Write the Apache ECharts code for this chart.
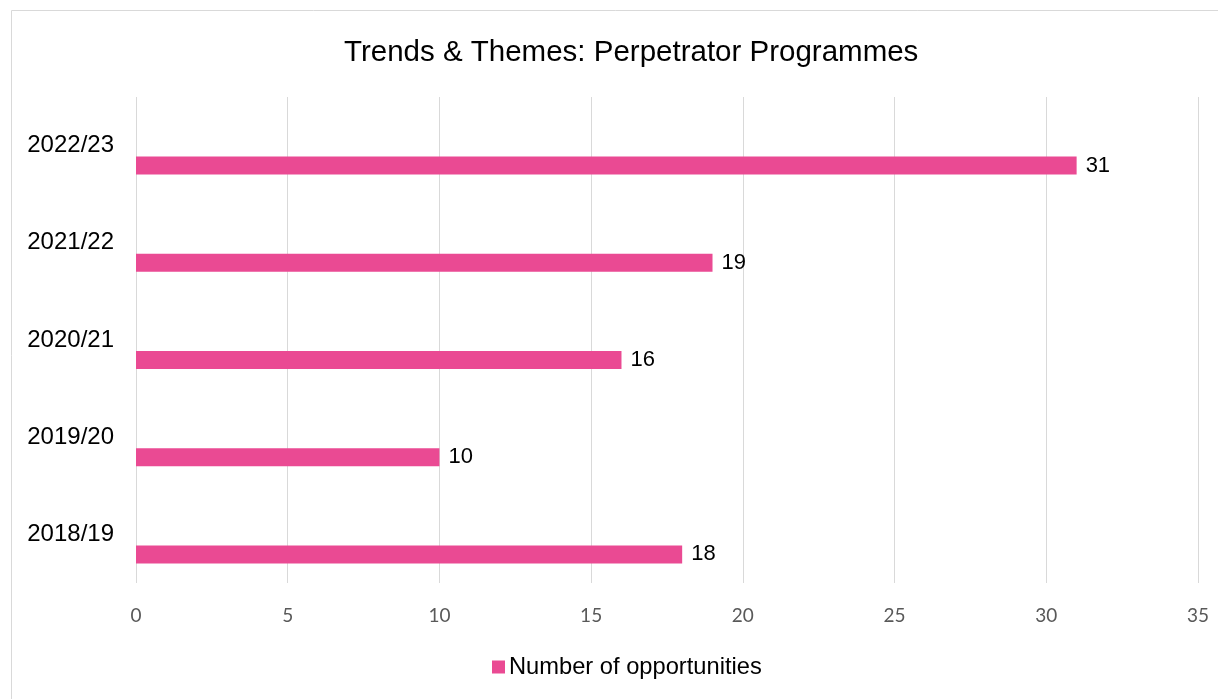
<!DOCTYPE html>
<html>
<head>
<meta charset="utf-8">
<script src="https://cdn.jsdelivr.net/npm/echarts@6/dist/echarts.min.js"></script>
<style>
  html, body { margin: 0; padding: 0; background: #fff; }
  #chart { width: 1218px; height: 699px; }
</style>
</head>
<body>
<div id="chart"></div>
<script>
const years = ["2018/19", "2019/20", "2020/21", "2021/22", "2022/23"];
const opportunities = [18, 10, 16, 19, 31];
const xTicks = [0, 5, 10, 15, 20, 25, 30, 35];

const chart = echarts.init(document.getElementById("chart"));
chart.setOption({
  animation: false,
  title: {
    text: "Trends & Themes: Perpetrator Programmes",
    left: 339,
    top: 33,
    textStyle: { color: "#000", fontFamily: "Liberation Sans", fontSize: 29.5, fontWeight: "normal" }
  },
  graphic: [{
    type: "rect",
    shape: { x: 11.5, y: 10.5, width: 1220, height: 700 },
    style: { fill: "none", stroke: "#d9d9d9", lineWidth: 1 }
  }],
  legend: {
    data: ["Number of opportunities"],
    bottom: 15,
    left: 487,
    itemWidth: 13,
    itemHeight: 13,
    icon: "rect",
    textStyle: { color: "#000", fontFamily: "Liberation Sans", fontSize: 23.7, padding: [0, 0, 0, -1] }
  },
  grid: { left: 136, right: 20, top: 97, bottom: 116, containLabel: false },
  xAxis: {
    type: "value",
    min: xTicks[0],
    max: xTicks[xTicks.length - 1],
    interval: 5,
    axisLine: { show: false },
    axisTick: { show: false },
    splitLine: { lineStyle: { color: "#d9d9d9", width: 1 } },
    axisLabel: { color: "#595959", fontFamily: "Lato", fontSize: 19, margin: 23 }
  },
  yAxis: {
    type: "category",
    data: years,
    axisLine: { show: false },
    axisTick: { show: false },
    axisLabel: { color: "#000", fontFamily: "Liberation Sans", fontSize: 24, margin: 22 }
  },
  series: [
    {
      // empty second series slot, as in the source chart, pushes the bars below the label line
      name: "",
      type: "bar",
      data: [],
      barWidth: 18,
      barGap: "122%"
    },
    {
      name: "Number of opportunities",
      type: "bar",
      data: opportunities,
      barWidth: 18,
      barGap: "122%",
      itemStyle: { color: "#EA4A93" },
      label: {
        show: true,
        position: "right",
        distance: 9,
        color: "#000",
        fontFamily: "Liberation Sans",
        fontSize: 22
      }
    }
  ]
});
</script>
</body>
</html>
